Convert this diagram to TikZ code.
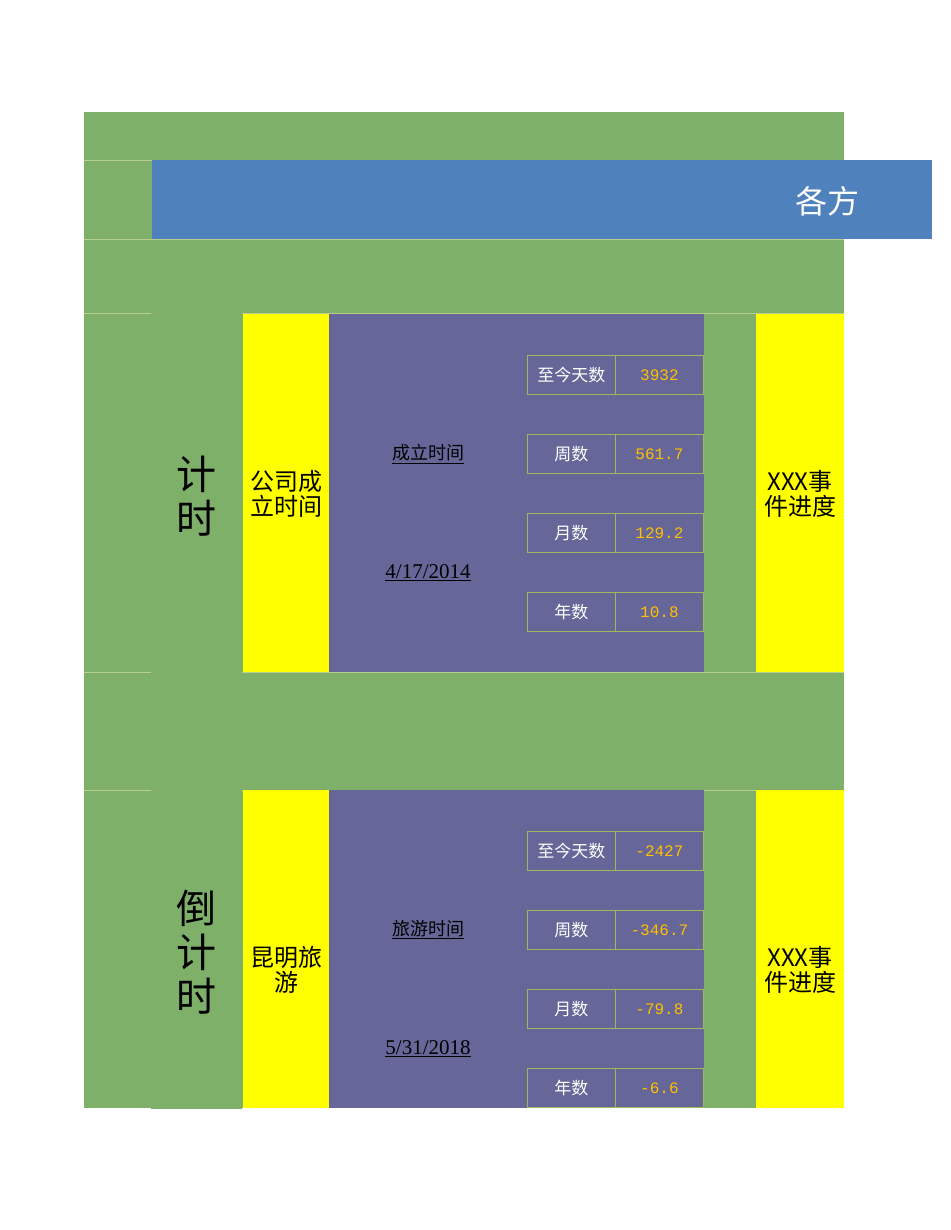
\documentclass[tikz,border=0pt]{standalone}
\usepackage{fontspec}
\setmainfont{Liberation Serif}
\newfontfamily\cjk{Noto Sans CJK SC}
\newfontfamily\monof{Liberation Mono}
\definecolor{bg}{HTML}{7FB069}
\definecolor{bar}{HTML}{4F81BD}
\definecolor{pur}{HTML}{666699}
\definecolor{yel}{HTML}{FFFF00}
\definecolor{org}{HTML}{FFC000}
\definecolor{grid}{HTML}{9BBB59}
\tikzset{
 cellbox/.style={draw=grid,line width=0.8pt,minimum width=88pt,minimum height=39pt,anchor=north west,inner sep=0pt},
 lab/.style={cellbox,text=white,font=\cjk\fontsize{17}{17}\selectfont},
 val/.style={cellbox,text=org,font=\monof\fontsize{16}{16}\selectfont},
 ytxt/.style={font=\cjk\fontsize{24}{25}\selectfont,align=center,inner sep=0pt},
 big/.style={font=\cjk\fontsize{40}{44}\selectfont,align=center,inner sep=0pt},
 ul/.style={inner sep=0pt}
}
\begin{document}
\begin{tikzpicture}[x=1pt,y=-1pt]
\useasboundingbox (0,0) rectangle (950,1230);
\fill[white] (0,0) rectangle (950,1230);
\fill[bg] (84,112) rectangle (844,1108);
\foreach \yy in {160,239,313,672,790}{\draw[grid!70!white,line width=0.5pt] (84,\yy) -- (844,\yy);}
\fill[bar] (152,160) rectangle (932,239);
\begin{scope}
\clip (152,160) rectangle (932,239);
\node[anchor=west,text=white,font=\cjk\fontsize{32}{32}\selectfont,inner sep=0pt] (title) at (795,201) {各方};
\end{scope}
\foreach \tp/\bt/\bigt/\yt/\hdr/\dtx/\va/\vb/\vc/\vd/\n in
 {314/672/计\\时/公司成\\立时间/成立时间/4\slash 17\slash 2014/3932/561.7/129.2/10.8/a,
  790/1108/倒\\计\\时/昆明旅\\游/旅游时间/5\slash 31\slash 2018/-2427/-346.7/-79.8/-6.6/b}{
 \draw[black,double=bg,double distance=1.5pt,line width=0.6pt] (152,\tp) rectangle (241,\bt);
 \node[big] (k\n) at (196.5,{(\tp+\bt)/2+3}) {\bigt};
 \fill[yel] (243,\tp) rectangle (329,\bt);
 \node[ytxt] (y\n) at (286,{\tp+180}) {\yt};
 \fill[pur] (329,\tp) rectangle (704,\bt);
 \node[ul,font=\cjk\fontsize{18}{18}\selectfont] (h\n) at (428,{\tp+140}) {\underline{\hdr}};
 \node[ul,font=\fontsize{21}{21}\selectfont] (d\n) at (428,{\tp+259}) {\underline{\dtx}};
 \node[lab] (l1\n) at (527,{\tp+41}) {至今天数};
 \node[val] (v1\n) at (615,{\tp+41}) {\va};
 \node[lab] (l2\n) at (527,{\tp+120}) {周数};
 \node[val] (v2\n) at (615,{\tp+120}) {\vb};
 \node[lab] (l3\n) at (527,{\tp+199}) {月数};
 \node[val] (v3\n) at (615,{\tp+199}) {\vc};
 \node[lab] (l4\n) at (527,{\tp+278}) {年数};
 \node[val] (v4\n) at (615,{\tp+278}) {\vd};
 \fill[yel] (756,\tp) rectangle (844,\bt);
 \node[ytxt] (r\n) at (800,{\tp+180}) {XXX事\\件进度};
}
\end{tikzpicture}
\end{document}
